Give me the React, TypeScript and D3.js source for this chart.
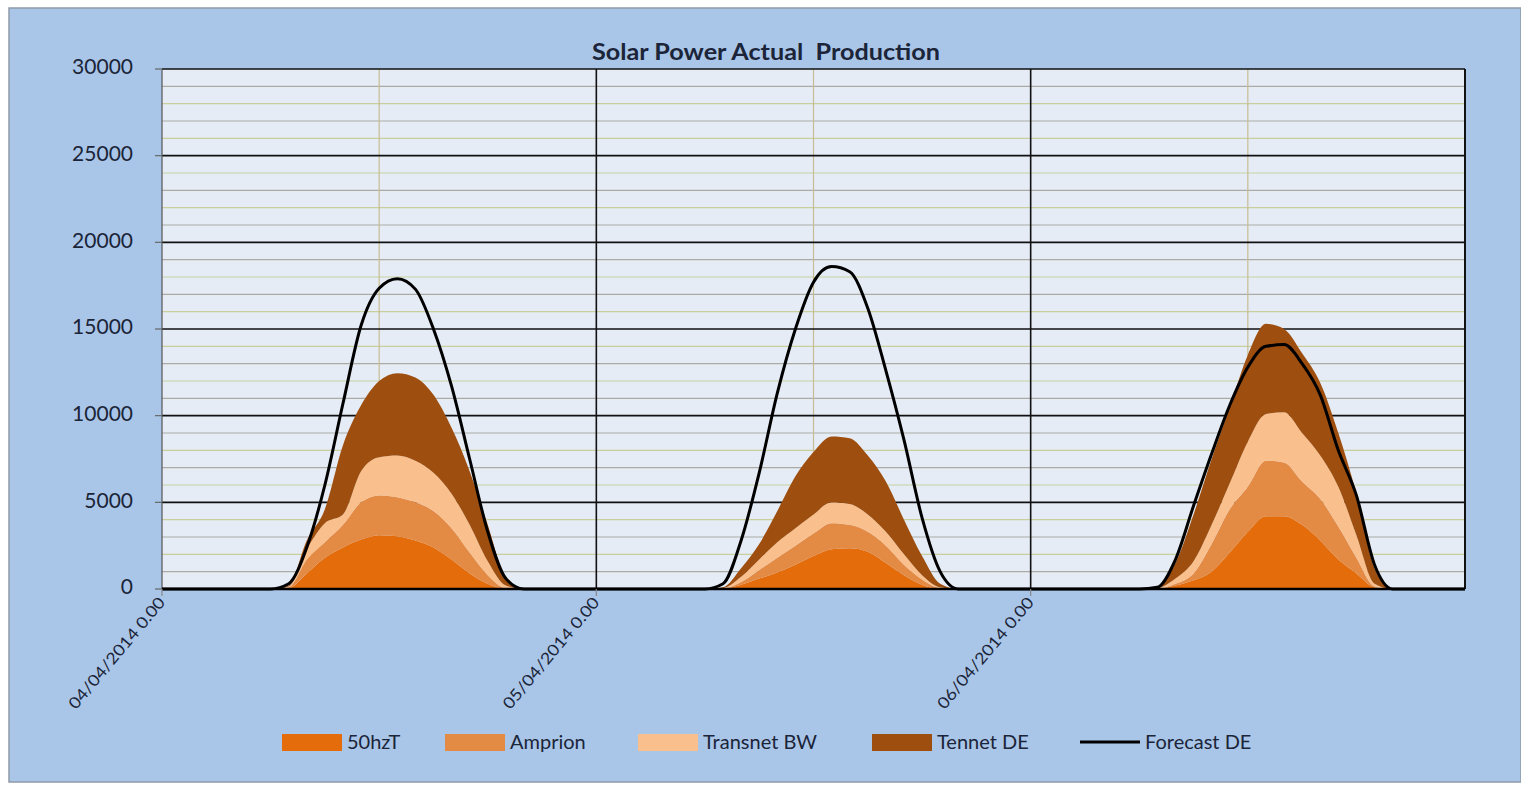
import React from 'react';
import * as d3 from 'd3';

const width = 1521;
const height = 785;
const plot = { left: 162, right: 1465, top: 69, bottom: 589 };

// hourly readings, 04/04/2014 0:00 .. 07/04/2014 0:00
const hours = d3.range(0, 73);
const dayTicks = [0, 24, 48];
const dayLabels = ['04/04/2014 0.00', '05/04/2014 0.00', '06/04/2014 0.00'];
const middayTicks = [12, 36, 60];
const yTicks = [0, 5000, 10000, 15000, 20000, 25000, 30000];

const fiftyHzT = [
  0, 0, 0, 0, 0, 0, 0, 50, 900, 1800, 2400, 2850, 3100, 3050, 2800, 2400, 1700, 900, 300, 0, 0, 0, 0, 0,
  0, 0, 0, 0, 0, 0, 0, 20, 250, 600, 950, 1400, 1900, 2300, 2350, 2150, 1500, 800, 250, 0, 0, 0, 0, 0,
  0, 0, 0, 0, 0, 0, 0, 20, 200, 500, 1000, 2100, 3300, 4200, 4200, 3700, 2800, 1700, 900, 100, 0, 0, 0, 0,
  0,
];
const amprion = [
  0, 0, 0, 0, 0, 0, 0, 50, 800, 900, 1300, 2150, 2300, 2250, 2200, 2100, 1800, 1200, 500, 50, 0, 0, 0, 0,
  0, 0, 0, 0, 0, 0, 0, 10, 150, 500, 850, 1100, 1300, 1500, 1350, 1150, 1000, 600, 300, 50, 0, 0, 0, 0,
  0, 0, 0, 0, 0, 0, 0, 0, 100, 400, 1600, 2500, 2600, 3200, 3100, 2500, 2400, 1900, 900, 50, 0, 0, 0, 0,
  0,
];
const transnetBW = [
  0, 0, 0, 0, 0, 0, 0, 50, 600, 1100, 600, 1800, 2200, 2400, 2400, 2200, 2000, 1600, 800, 150, 0, 0, 0, 0,
  0, 0, 0, 0, 0, 0, 0, 20, 300, 600, 900, 1000, 1100, 1200, 1200, 1000, 800, 600, 250, 50, 0, 0, 0, 0,
  0, 0, 0, 0, 0, 0, 0, 30, 300, 700, 1100, 1500, 2600, 2700, 2900, 2800, 2500, 2300, 1300, 150, 0, 0, 0, 0,
  0,
];
const tennetDE = [
  0, 0, 0, 0, 0, 0, 0, 50, 500, 800, 4000, 3800, 4400, 4750, 4800, 4500, 3800, 3100, 2100, 400, 0, 0, 0, 0,
  0, 0, 0, 0, 0, 0, 0, 50, 500, 900, 1800, 3000, 3600, 3800, 3800, 3400, 2900, 2000, 1100, 200, 0, 0, 0, 0,
  0, 0, 0, 0, 0, 0, 0, 50, 900, 2700, 3800, 4400, 5000, 5200, 4800, 4600, 4200, 3100, 2400, 900, 0, 0, 0, 0,
  0,
];
const forecastDE = [
  0, 0, 0, 0, 0, 0, 0, 300, 2400, 6000, 10700, 15200, 17350, 17900, 17300, 15000, 11700, 7500, 3300, 600, 0, 0, 0, 0,
  0, 0, 0, 0, 0, 0, 0, 300, 2800, 6700, 11300, 15000, 17700, 18600, 18300, 16200, 12600, 8600, 4100, 1000, 0, 0, 0, 0,
  0, 0, 0, 0, 0, 0, 0, 100, 1700, 4800, 7800, 10600, 12800, 14000, 14100, 13000, 11200, 8000, 5400, 1400, 0, 0, 0, 0,
  0,
];

const seriesNames = ['50hzT', 'Amprion', 'Transnet BW', 'Tennet DE'];
const seriesColors = ['#E46C0A', '#E38A45', '#F9BF8C', '#9E4E0E'];

const font = 'Lato, "Open Sans", sans-serif';
const textColor = '#1B2438';

export default function App() {
  const x = d3.scaleLinear().domain([0, 72]).range([plot.left, plot.right]);
  const y = d3.scaleLinear().domain([0, 30000]).range([plot.bottom, plot.top]);

  const table = hours.map((h, i) => ({
    h,
    '50hzT': fiftyHzT[i],
    Amprion: amprion[i],
    'Transnet BW': transnetBW[i],
    'Tennet DE': tennetDE[i],
  }));
  const stacked = d3.stack<any>().keys(seriesNames)(table);

  const area = d3
    .area<any>()
    .x((d) => x(d.data.h))
    .y0((d) => y(d[0]))
    .y1((d) => y(d[1]))
    .curve(d3.curveMonotoneX);

  const line = d3
    .line<number>()
    .x((_, i) => x(hours[i]))
    .y((d) => y(d))
    .curve(d3.curveMonotoneX);

  const minor = d3.range(1000, 30000, 1000).filter((v) => v % 5000 !== 0);

  // legend layout
  const legendItems = [
    { name: '50hzT', x: 282, color: seriesColors[0] },
    { name: 'Amprion', x: 445, color: seriesColors[1] },
    { name: 'Transnet BW', x: 638, color: seriesColors[2] },
    { name: 'Tennet DE', x: 872, color: seriesColors[3] },
  ];

  return (
    <div style={{ position: 'absolute', left: 0, top: 0 }}>
      <svg width={width} height={height} style={{ display: 'block', background: '#fff' }}>
        <rect x={9} y={8} width={width - 9} height={774} fill="#A9C6E8" stroke="#8E9AA8" strokeWidth={1.5} />

        {/* plot area */}
        <rect x={plot.left} y={plot.top} width={plot.right - plot.left} height={plot.bottom - plot.top} fill="#E5ECF6" />

        {minor.map((v) => (
          <line
            key={'m' + v}
            x1={plot.left}
            x2={plot.right}
            y1={y(v)}
            y2={y(v)}
            stroke={(v / 1000) % 2 === 1 ? '#ABABA2' : '#C9CF9C'}
            strokeWidth={1.2}
          />
        ))}
        {middayTicks.map((t) => (
          <line key={'md' + t} x1={x(t)} x2={x(t)} y1={plot.top} y2={plot.bottom} stroke="#C7BC92" strokeWidth={1.2} />
        ))}
        {yTicks.map((v) => (
          <line key={'M' + v} x1={plot.left} x2={plot.right} y1={y(v)} y2={y(v)} stroke="#111" strokeWidth={1.6} />
        ))}
        {[24, 48].map((t) => (
          <line key={'d' + t} x1={x(t)} x2={x(t)} y1={plot.top} y2={plot.bottom} stroke="#111" strokeWidth={1.6} />
        ))}
        <line x1={plot.right} x2={plot.right} y1={plot.top} y2={plot.bottom} stroke="#111" strokeWidth={2} />
        <line x1={plot.left} x2={plot.left} y1={plot.top} y2={plot.bottom} stroke="#555" strokeWidth={1.2} />

        {/* stacked areas */}
        {stacked.map((s, i) => (
          <path key={s.key} d={area(s as any) || ''} fill={seriesColors[i]} />
        ))}

        {/* forecast */}
        <path d={line(forecastDE) || ''} fill="none" stroke="#000" strokeWidth={3} strokeLinejoin="round" />
        <line x1={plot.left} x2={plot.right} y1={plot.bottom} y2={plot.bottom} stroke="#000" strokeWidth={2.5} />

        {/* y axis */}
        {yTicks.map((v) => (
          <g key={'yl' + v}>
            <line x1={plot.left - 7} x2={plot.left} y1={y(v)} y2={y(v)} stroke="#666" strokeWidth={1.2} />
            <text
              x={133}
              y={y(v)}
              textAnchor="end"
              dominantBaseline="middle"
              fontFamily={font}
              fontSize={21}
              fill={textColor}
            >
              {v}
            </text>
          </g>
        ))}

        {/* x axis */}
        {dayTicks.map((t, i) => (
          <g key={'xl' + t}>
            <line x1={x(t)} x2={x(t)} y1={plot.bottom} y2={plot.bottom + 7} stroke="#888" strokeWidth={1.2} />
            <text
              transform={`translate(${x(t) + 4},${plot.bottom + 14}) rotate(-50)`}
              textAnchor="end"
              fontFamily={font}
              fontSize={16}
              fill={textColor}
              textLength={140}
              lengthAdjust="spacingAndGlyphs"
            >
              {dayLabels[i]}
            </text>
          </g>
        ))}

        {/* title */}
        <text
          x={766}
          y={60}
          textAnchor="middle"
          fontFamily={font}
          fontWeight={700}
          fontSize={22}
          fill={textColor}
          textLength={348}
          lengthAdjust="spacingAndGlyphs"
          style={{ whiteSpace: 'pre' }}
        >
          {'Solar Power Actual  Production'}
        </text>

        {/* legend */}
        {legendItems.map((it) => (
          <g key={it.name}>
            <rect x={it.x} y={734} width={60} height={17} fill={it.color} />
            <text x={it.x + 65} y={749} fontFamily={font} fontSize={20} fill={textColor}>
              {it.name}
            </text>
          </g>
        ))}
        <line x1={1080} x2={1140} y1={742} y2={742} stroke="#000" strokeWidth={3} />
        <text x={1145} y={749} fontFamily={font} fontSize={20} fill={textColor}>
          Forecast DE
        </text>
      </svg>
    </div>
  );
}
